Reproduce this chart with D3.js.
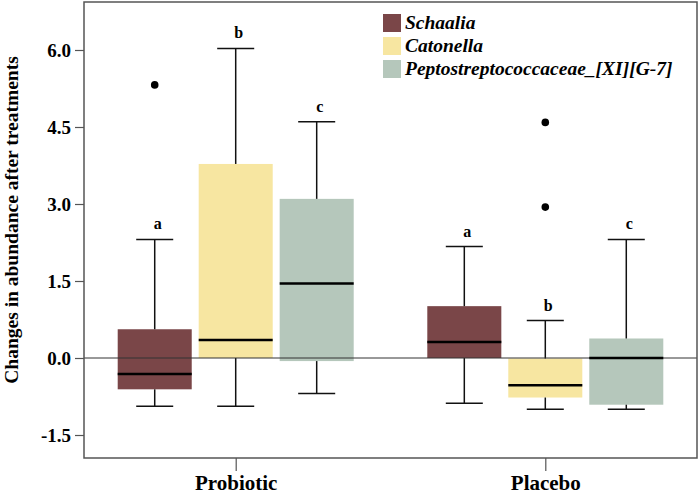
<!DOCTYPE html>
<html><head><meta charset="utf-8">
<script src="https://cdn.jsdelivr.net/npm/d3@7"></script>
<style>body{margin:0;background:#fff}svg{display:block}text{font-family:"Liberation Serif","Times New Roman",serif;font-weight:bold}</style>
</head><body><svg id="c" width="700" height="495"></svg>
<script>
const groups = ["Probiotic", "Placebo"];
const series = ["Schaalia", "Catonella", "Peptostreptococcaceae_[XI][G-7]"];
const colors = ["#7a4648", "#f7e6a1", "#b5c7bb"];
// [whiskerLow, q1, median, q3, whiskerHigh] per group, per series
const schaaliaStats = [[-0.94, -0.61, -0.31, 0.56, 2.31], [-0.88, 0.0, 0.31, 1.01, 2.17]];
const catonellaStats = [[-0.94, 0.0, 0.35, 3.78, 6.03], [-1.0, -0.77, -0.53, -0.01, 0.73]];
const peptoStats = [[-0.69, -0.06, 1.45, 3.10, 4.60], [-1.0, -0.91, 0.0, 0.38, 2.31]];
const schaaliaOutliers = [[5.32], []];
const catonellaOutliers = [[], [4.59, 2.94]];
const peptoOutliers = [[], []];
const sigLetters = [["a", "b", "c"], ["a", "b", "c"]];
const yTicks = [-1.5, 0.0, 1.5, 3.0, 4.5, 6.0];
const yLabel = "Changes in abundance after treatments";

const statsBySeries = [schaaliaStats, catonellaStats, peptoStats];
const outBySeries = [schaaliaOutliers, catonellaOutliers, peptoOutliers];

const svg = d3.select("#c");
const L = 84, R = 697, T = 2, B = 458;
const y = d3.scaleLinear().domain([-1.948, 6.935]).range([B, T]);
const x = d3.scalePoint().domain(groups).range([L, R]).padding(0.49);
const xs = d3.scaleBand().domain(series).range([-118, 118]).paddingInner(0.086);
const bw = xs.bandwidth();

const rows = [];
groups.forEach((g, gi) => series.forEach((s, si) => {
  const st = statsBySeries[si][gi];
  rows.push({g, s, si, gi, lo: st[0], q1: st[1], med: st[2], q3: st[3], hi: st[4],
    out: outBySeries[si][gi], letter: sigLetters[gi][si],
    cx: x(g) + xs(s) + bw / 2, x0: x(g) + xs(s)});
}));

// boxes
svg.append("g").selectAll("rect").data(rows).join("rect")
  .attr("x", d => d.x0).attr("width", bw)
  .attr("y", d => y(d.q3)).attr("height", d => y(d.q1) - y(d.q3))
  .attr("fill", d => colors[d.si]);
// whiskers
const wg = svg.append("g").attr("stroke", "#111").attr("stroke-width", 1.5);
rows.forEach(d => {
  wg.append("line").attr("x1", d.cx).attr("x2", d.cx).attr("y1", y(d.hi)).attr("y2", y(d.q3));
  wg.append("line").attr("x1", d.cx).attr("x2", d.cx).attr("y1", y(d.q1)).attr("y2", y(d.lo));
  wg.append("line").attr("x1", d.cx - bw / 4).attr("x2", d.cx + bw / 4).attr("y1", y(d.hi)).attr("y2", y(d.hi));
  wg.append("line").attr("x1", d.cx - bw / 4).attr("x2", d.cx + bw / 4).attr("y1", y(d.lo)).attr("y2", y(d.lo));
});
// zero line
svg.append("line").attr("x1", L).attr("x2", R).attr("y1", y(0)).attr("y2", y(0))
  .attr("stroke", "#333").attr("stroke-width", 1);
// medians
svg.append("g").selectAll("line").data(rows).join("line")
  .attr("x1", d => d.x0).attr("x2", d => d.x0 + bw)
  .attr("y1", d => y(d.med)).attr("y2", d => y(d.med))
  .attr("stroke", "#000").attr("stroke-width", 2.5);
// outliers
rows.forEach(d => d.out.forEach(v => {
  svg.append("circle").attr("cx", d.cx).attr("cy", y(v)).attr("r", 3.8).attr("fill", "#000");
}));
// letters
svg.append("g").selectAll("text").data(rows).join("text")
  .attr("x", d => d.cx + 3).attr("y", d => y(d.hi) - 10)
  .attr("text-anchor", "middle").attr("font-size", 16).text(d => d.letter);

// frame
svg.append("rect").attr("x", L).attr("y", T).attr("width", R - L).attr("height", B - T)
  .attr("fill", "none").attr("stroke", "#555").attr("stroke-width", 1.5);

// y axis
const fmt = d3.format(".1f");
const ya = svg.append("g").attr("transform", `translate(${L},0)`)
  .call(d3.axisLeft(y).tickValues(yTicks).tickFormat(d => fmt(d).replace("\u2212", "-")).tickSize(9).tickPadding(4));
ya.select(".domain").remove();
ya.selectAll("line").attr("stroke", "#555").attr("stroke-width", 1.2);
ya.selectAll("text").attr("font-size", 19).attr("fill", "#000")
  .attr("font-family", "Liberation Serif").attr("font-weight", "bold");
// x axis
const xa = svg.append("g").attr("transform", `translate(0,${B})`)
  .call(d3.axisBottom(x).tickSize(13).tickPadding(4));
xa.select(".domain").remove();
xa.selectAll("line").attr("stroke", "#555").attr("stroke-width", 1.2);
xa.selectAll("text").attr("font-size", 21).attr("fill", "#000")
  .attr("font-family", "Liberation Serif").attr("font-weight", "bold");

svg.append("text").attr("transform", `translate(18,${(T + B) / 2 - 10}) rotate(-90)`)
  .attr("text-anchor", "middle").attr("font-size", 19.5).text(yLabel);

// legend
const lg = svg.append("g").attr("transform", "translate(383,14)");
series.forEach((s, i) => {
  lg.append("rect").attr("x", 0).attr("y", i * 23).attr("width", 18).attr("height", 18).attr("fill", colors[i]);
  lg.append("text").attr("x", 22).attr("y", i * 23 + 15).attr("font-size", 19.5)
    .attr("font-style", "italic").text(s);
});
</script></body></html>
